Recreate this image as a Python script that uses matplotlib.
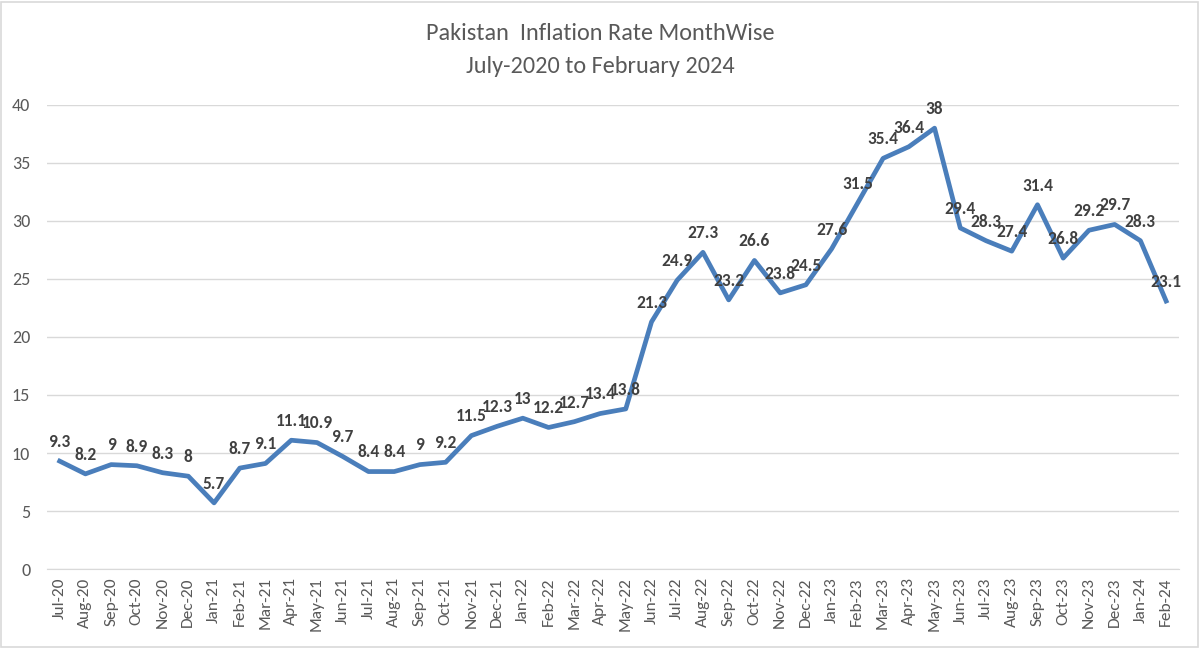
import matplotlib
matplotlib.use("Agg")
import matplotlib.pyplot as plt
from matplotlib.patches import Rectangle

months = ["Jul-20", "Aug-20", "Sep-20", "Oct-20", "Nov-20", "Dec-20",
          "Jan-21", "Feb-21", "Mar-21", "Apr-21", "May-21", "Jun-21",
          "Jul-21", "Aug-21", "Sep-21", "Oct-21", "Nov-21", "Dec-21",
          "Jan-22", "Feb-22", "Mar-22", "Apr-22", "May-22", "Jun-22",
          "Jul-22", "Aug-22", "Sep-22", "Oct-22", "Nov-22", "Dec-22",
          "Jan-23", "Feb-23", "Mar-23", "Apr-23", "May-23", "Jun-23",
          "Jul-23", "Aug-23", "Sep-23", "Oct-23", "Nov-23", "Dec-23",
          "Jan-24", "Feb-24"]
inflation = [9.3, 8.2, 9, 8.9, 8.3, 8,
             5.7, 8.7, 9.1, 11.1, 10.9, 9.7,
             8.4, 8.4, 9, 9.2, 11.5, 12.3,
             13, 12.2, 12.7, 13.4, 13.8, 21.3,
             24.9, 27.3, 23.2, 26.6, 23.8, 24.5,
             27.6, 31.5, 35.4, 36.4, 38, 29.4,
             28.3, 27.4, 31.4, 26.8, 29.2, 29.7,
             28.3, 23.1]
yticks = [0, 5, 10, 15, 20, 25, 30, 35, 40]

plt.rcParams['font.family'] = ['Carlito', 'Liberation Sans', 'DejaVu Sans']
fig = plt.figure(figsize=(12, 6.48), dpi=100)
ax = fig.add_axes([0.039, 0.1219, 0.9435, 0.7161])

x = list(range(len(months)))
ax.plot(x, inflation, color="#4A7EBB", linewidth=3.4, solid_joinstyle="round", zorder=3)
for xi, v in zip(x, inflation):
    lab = f"{v:g}"
    ax.annotate(lab, (xi, v), xytext=(0, 8), textcoords="offset points",
                ha="center", va="bottom", fontsize=12.5, fontweight="bold",
                color="#404040", zorder=4)

ax.set_xlim(-0.5, len(months) - 0.5)
ax.set_ylim(0, 40)
ax.set_yticks(yticks)
ax.set_xticks(x)
ax.set_xticklabels(months, rotation=90, fontsize=12.5, color="#595959")
ax.tick_params(axis="y", labelsize=13, labelcolor="#595959", length=0, pad=12)
ax.tick_params(axis="x", length=0, pad=6)
ax.grid(axis="y", color="#D9D9D9", linewidth=1)
ax.set_axisbelow(True)
for s in ["top", "right", "left"]:
    ax.spines[s].set_visible(False)
ax.spines["bottom"].set_color("#D9D9D9")

fig.text(0.5, 0.948, "Pakistan  Inflation Rate MonthWise", ha="center", va="center",
         fontsize=17.5, color="#595959")
fig.text(0.5, 0.898, "July-2020 to February 2024", ha="center", va="center",
         fontsize=17.5, color="#595959")

fig.patches.append(Rectangle((0.001, 0.002), 0.997, 0.995, transform=fig.transFigure,
                             fill=False, edgecolor="#D9D9D9", linewidth=1.2))

fig.savefig("out.png", dpi=100, facecolor="white")
